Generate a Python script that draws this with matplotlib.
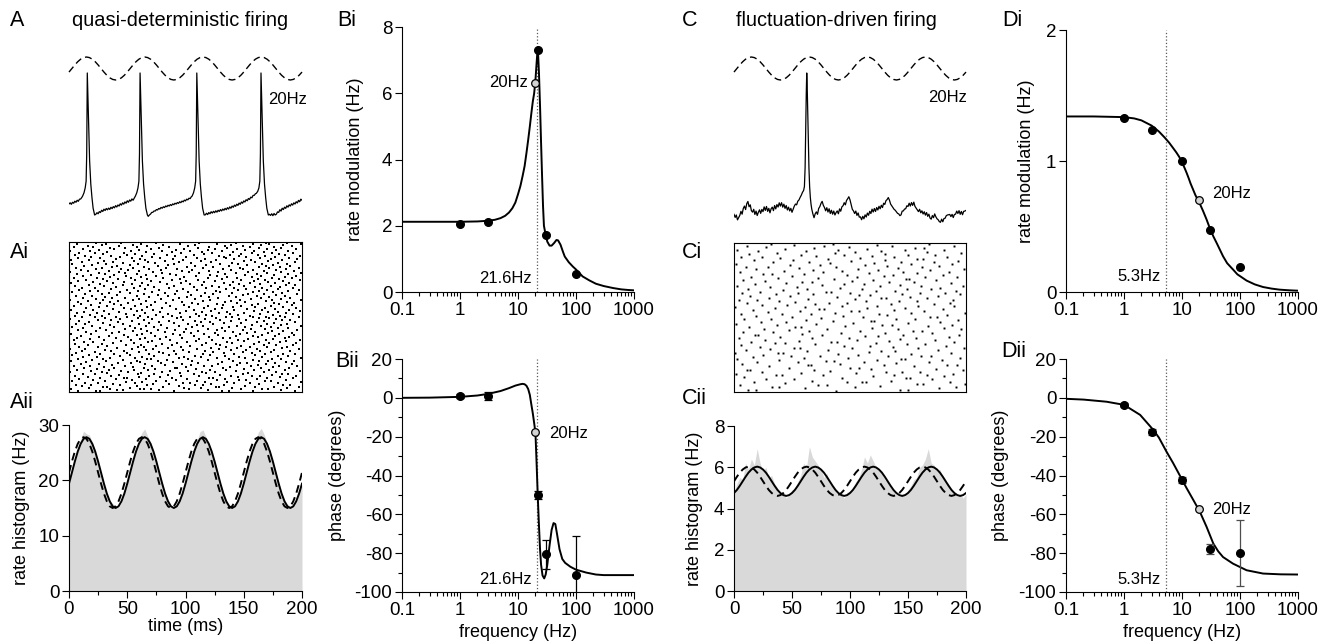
import numpy as np
import matplotlib
matplotlib.use("Agg")
import matplotlib.pyplot as plt
from matplotlib.ticker import LogLocator, NullFormatter, MultipleLocator

plt.rcParams['font.family'] = ['Liberation Sans', 'DejaVu Sans']
plt.rcParams['font.size'] = 13
plt.rcParams['axes.linewidth'] = 0.8
plt.rcParams['axes.unicode_minus'] = False

# ======================= DATA =======================
freq_ticks = [0.1, 1, 10, 100, 1000]
freq_ticklabels = ['0.1', '1', '10', '100', '1000']

# ---- membrane potential traces (time ms, mV) ----
a_trace = [
    (0, -66.8), (1, -66.0), (2, -67.1), (3, -65.6), (4, -66.3), (5, -64.8), (6, -65.6), (7, -64.1), (8, -64.9),
    (9, -63.3), (10, -63.2), (11, -62.0),
    (11.7, -61), (12.9, -58.5), (13.9, -55), (14.7, -50), (15.2, -30), (15.7, 30), (16.3, 10), (16.9, -12),
    (17.7, -35), (18.7, -52), (19.7, -62), (20.7, -70), (22.0, -75),
    (23, -74.5), (24, -73.3), (25, -74.1), (26, -72.5), (27, -73.2), (28, -71.5), (29, -72.4), (30, -70.7),
    (31, -71.7), (32, -70.2), (33, -71.2), (34, -69.9), (35, -70.9), (36, -69.3), (37, -70.3), (38, -68.8),
    (39, -69.7), (40, -68.1), (41, -69.1), (42, -67.6), (43, -68.4), (44, -66.7), (45, -67.7), (46, -66.0),
    (47, -67.0), (48, -65.3), (49, -66.3), (50, -64.5), (51, -65.6), (52, -63.9), (53, -64.8), (54, -63.1),
    (55, -64.1), (56, -62.5),
    (57, -61), (58.2, -58.5), (59.2, -55), (60.0, -50), (60.5, -30), (61.0, 30), (61.6, 10), (62.2, -12),
    (63.0, -35), (64.0, -52), (65.0, -62), (66.0, -70), (67.3, -75),
    (68, -76), (69, -75.0), (70, -74.3), (71, -73.1), (72, -73.0), (73, -72.0), (74, -72.1), (75, -71.0),
    (76, -71.3), (77, -70.2), (78, -70.6), (79, -69.4), (80, -70.0), (81, -68.9), (82, -69.5), (83, -68.3),
    (84, -68.9), (85, -67.8), (86, -68.4), (87, -67.3), (88, -68.0), (89, -66.8), (90, -67.4), (91, -66.3),
    (92, -66.9), (93, -65.8), (94, -66.4), (95, -65.2), (96, -65.9), (97, -64.7), (98, -65.3), (99, -64.0),
    (100, -64.6), (101, -63.3), (102, -63.8), (103, -62.6), (104, -62.9), (105, -61.5),
    (105.7, -61), (106.9, -58.5), (107.9, -55), (108.7, -50), (109.2, -30), (109.7, 30), (110.3, 10),
    (110.9, -12), (111.7, -35), (112.7, -52), (113.7, -62), (114.7, -70), (116.0, -75),
    (117, -74.9), (118, -73.7), (119, -74.7), (120, -73.2), (121, -74.1), (122, -72.6), (123, -73.6),
    (124, -72.3), (125, -73.3), (126, -71.9), (127, -72.9), (128, -71.5), (129, -72.4), (130, -71.0),
    (131, -72.0), (132, -70.6), (133, -71.5), (134, -70.1), (135, -71.1), (136, -69.6), (137, -70.6),
    (138, -69.0), (139, -70.0), (140, -68.4), (141, -69.3), (142, -67.7), (143, -68.6), (144, -67.0),
    (145, -67.9), (146, -66.2), (147, -67.1), (148, -65.4), (149, -66.3), (150, -64.6), (151, -65.4),
    (152, -63.7), (153, -64.5), (154, -62.8), (155, -63.5), (156, -61.8), (157, -62.3), (158, -60.5),
    (159, -60.5), (160, -59.3),
    (160.8, -59), (162.0, -57.5), (163.0, -55), (163.8, -50), (164.3, -30), (164.8, 30), (165.4, 10),
    (166.0, -12), (166.8, -35), (167.8, -52), (168.8, -62), (169.8, -70), (171.1, -75),
    (172, -74.5), (173, -75.3), (174, -74.1), (175, -75.5), (176, -73.9), (177, -75.0), (178, -74.4),
    (179, -72.7), (180, -73.1), (181, -71.1), (182, -72.1), (183, -70.0), (184, -71.0), (185, -69.2),
    (186, -70.1), (187, -68.2), (188, -69.2), (189, -67.5), (190, -68.4), (191, -66.7), (192, -67.7),
    (193, -66.0), (194, -66.9), (195, -65.2), (196, -66.1), (197, -64.2), (198, -65.2), (199, -63.3),
    (200, -64.1)]

c_trace = [
    (0, -74.5), (1, -76.8), (2, -75.0), (3, -78.6), (4, -77.0), (5, -75.3), (6, -72.3), (7, -74.4), (8, -70.2),
    (9, -68.4), (10, -71.0), (11, -66.6), (12, -65.0), (13, -68.9), (14, -67.5), (15, -71.8), (16, -72.9),
    (17, -70.8), (18, -74.6), (19, -72.1), (20, -75.4), (21, -73.0), (22, -71.2), (23, -73.8), (24, -70.9),
    (25, -72.5), (26, -69.0), (27, -71.6), (28, -68.7), (29, -72.3), (30, -70.1), (31, -73.4), (32, -70.4),
    (33, -69.2), (34, -71.8), (35, -68.0), (36, -70.5), (37, -67.3), (38, -69.1), (39, -66.0), (40, -68.4),
    (41, -65.9), (42, -69.2), (43, -67.0), (44, -70.1), (45, -68.0), (46, -71.3), (47, -69.2), (48, -72.0),
    (49, -70.1), (50, -73.0), (51, -70.6), (52, -68.4), (53, -66.9), (54, -67.5), (55, -64.8), (56, -63.9),
    (57, -62.0), (58, -60.4), (59, -58.3), (60, -56.9), (60.7, -54), (61.3, -40), (61.8, -10), (62.3, 15),
    (62.7, 30), (63.1, 20), (63.6, 0), (64.1, -22), (64.6, -40), (65.2, -54), (65.8, -62), (66.4, -67),
    (67, -70.5), (68, -74.2), (69, -77.0), (70, -74.1), (71, -72.7), (72, -74.5), (73, -70.2), (74, -68.8),
    (75, -66.4), (76, -64.9), (77, -67.8), (78, -69.5), (79, -71.9), (80, -69.6), (81, -72.8), (82, -70.4),
    (83, -73.9), (84, -71.5), (85, -74.4), (86, -72.1), (87, -75.0), (88, -73.2), (89, -72.0), (90, -74.1),
    (91, -70.5), (92, -72.2), (93, -69.0), (94, -68.2), (95, -65.9), (96, -67.5), (97, -64.3), (98, -63.0),
    (99, -61.5), (100, -63.8), (101, -67.4), (102, -70.8), (103, -72.0), (104, -73.9), (105, -72.1),
    (106, -75.3), (107, -73.5), (108, -76.6), (109, -76.4), (110, -78.5), (111, -76.0), (112, -77.8),
    (113, -74.9), (114, -76.5), (115, -73.6), (116, -75.2), (117, -72.3), (118, -73.9), (119, -70.7),
    (120, -72.8), (121, -70.2), (122, -72.4), (123, -69.5), (124, -71.3), (125, -68.6), (126, -70.4),
    (127, -67.8), (128, -69.5), (129, -66.3), (130, -67.2), (131, -64.4), (132, -63.6), (133, -62.1),
    (134, -64.0), (135, -66.9), (136, -68.2), (137, -69.6), (138, -70.8), (139, -71.5), (140, -72.6),
    (141, -73.8), (142, -74.2), (143, -75.5), (144, -74.9), (145, -72.1), (146, -72.0), (147, -70.6),
    (148, -70.4), (149, -68.2), (150, -68.7), (151, -66.3), (152, -68.4), (153, -65.8), (154, -67.9),
    (155, -65.5), (156, -68.6), (157, -69.9), (158, -71.1), (159, -72.5), (160, -70.8), (161, -73.4),
    (162, -71.9), (163, -74.3), (164, -72.6), (165, -75.1), (166, -73.2), (167, -76.0), (168, -74.4),
    (169, -77.3), (170, -78.1), (171, -75.4), (172, -77.0), (173, -74.2), (174, -76.3), (175, -77.8),
    (176, -78.5), (177, -79.9), (178, -80.4), (179, -78.1), (180, -80.0), (181, -77.6), (182, -77.4),
    (183, -75.5), (184, -75.0), (185, -74.8), (186, -74.6), (187, -76.2), (188, -74.5), (189, -76.9),
    (190, -74.6), (191, -74.4), (192, -72.1), (193, -73.9), (194, -71.8), (195, -74.5), (196, -72.4),
    (197, -74.8), (198, -72.3), (199, -72.1), (200, -71.6)]

# one period (2.5 ms steps, 50 ms) of the normalised 20 Hz input
stim_period = [-0.31, 0, 0.31, 0.59, 0.81, 0.95, 1, 0.95, 0.81, 0.59,
               0.31, 0, -0.31, -0.59, -0.81, -0.95, -1, -0.95, -0.81, -0.59]

# ---- rasters: spike times (ms) per trial ----
ai_spikes = [
    [8, 23, 27, 90, 131, 137, 158, 194], [41, 46, 77, 119, 182], [2, 35, 61, 64, 70, 103, 148, 166, 171],
    [17, 52, 99, 113, 140, 187], [29, 33, 81, 126, 129, 160, 176, 197], [11, 58, 94, 151],
    [6, 19, 44, 67, 108, 115, 133, 184, 190], [38, 72, 86, 122, 163], [14, 25, 57, 98, 104, 142, 155, 179],
    [49, 63, 117, 136, 199], [3, 31, 75, 83, 110, 168, 173], [21, 54, 92, 127, 146, 152, 186],
    [9, 40, 66, 101, 134, 161], [27, 47, 50, 88, 120, 124, 170, 192], [16, 60, 78, 145, 181],
    [5, 36, 69, 96, 112, 139, 157, 164, 195], [43, 85, 130, 174], [12, 22, 59, 73, 107, 149, 183, 188],
    [33, 62, 95, 118, 154], [1, 28, 51, 80, 114, 125, 167, 178], [19, 45, 87, 102, 143, 198],
    [7, 34, 56, 68, 121, 135, 159, 172, 185], [24, 74, 109, 150], [13, 39, 64, 91, 93, 132, 165, 189],
    [30, 55, 100, 138, 175], [4, 18, 48, 71, 116, 123, 156, 180, 196], [37, 82, 105, 144, 162],
    [10, 26, 65, 97, 128, 169, 191], [42, 53, 79, 111, 147, 153, 177], [15, 61, 89, 131, 186],
    [2, 32, 58, 76, 106, 141, 163, 171, 193], [20, 46, 84, 119, 158], [8, 29, 67, 70, 102, 137, 174, 182],
    [35, 57, 94, 127, 151, 199], [12, 24, 63, 99, 113, 146, 166], [44, 73, 108, 134, 179, 188],
    [3, 17, 52, 86, 121, 160], [27, 39, 69, 92, 115, 142, 168, 184, 194], [6, 50, 81, 133, 157],
    [22, 60, 77, 103, 124, 149, 173], [11, 36, 47, 90, 117, 164, 190], [31, 66, 98, 139, 152, 176],
    [1, 14, 54, 72, 110, 129, 161, 197], [41, 85, 122, 144, 183], [9, 25, 59, 64, 96, 135, 155, 170, 187],
    [33, 75, 104, 148], [16, 49, 62, 88, 114, 130, 167, 178, 192], [5, 28, 80, 126, 159],
    [38, 56, 93, 118, 140, 172, 195], [13, 21, 68, 101, 136, 163, 181], [45, 71, 109, 150, 186],
    [4, 30, 53, 87, 123, 145, 169, 198], [18, 61, 78, 112, 154, 175], [7, 40, 65, 97, 132, 138, 185],
    [26, 51, 83, 120, 162, 189], [10, 34, 74, 107, 143, 158, 177], [47, 58, 95, 128, 166, 193],
    [2, 19, 63, 89, 116, 147, 180], [37, 70, 105, 125, 153, 171, 191], [15, 43, 82, 99, 141, 160],
    [23, 55, 67, 111, 134, 174, 184], [8, 32, 76, 91, 127, 149, 196], [48, 62, 100, 119, 156, 168],
    [12, 27, 57, 84, 131, 179, 188], [3, 39, 73, 106, 137, 151, 173], [20, 52, 66, 94, 115, 144, 165, 199],
    [35, 79, 110, 157, 182], [6, 14, 46, 60, 102, 124, 170, 187], [29, 69, 90, 133, 148, 176],
    [17, 42, 77, 113, 121, 161, 194], [9, 54, 86, 108, 139, 167], [25, 36, 64, 98, 130, 152, 183, 190],
    [1, 44, 71, 117, 146, 178], [31, 59, 93, 126, 163, 172], [11, 22, 50, 81, 104, 140, 158, 185],
    [40, 68, 96, 135, 169, 197], [5, 28, 61, 88, 112, 123, 155, 181], [18, 56, 75, 118, 145, 175],
    [34, 49, 85, 109, 138, 164, 192], [7, 24, 65, 95, 129, 150, 186], [13, 43, 78, 114, 136, 171, 179],
    [30, 58, 100, 122, 159, 198], [2, 21, 63, 72, 107, 142, 166, 189], [38, 53, 92, 125, 153, 177],
    [15, 47, 80, 116, 131, 168, 195], [26, 67, 103, 141, 160, 184], [4, 33, 57, 87, 119, 148, 173],
    [19, 45, 70, 99, 132, 157, 191], [10, 39, 62, 111, 127, 162, 180], [27, 51, 83, 106, 144, 176, 193],
    [8, 35, 74, 97, 134, 151, 187], [16, 42, 66, 115, 139, 169], [1, 29, 55, 89, 121, 147, 174, 199],
    [23, 60, 79, 108, 156, 182], [12, 37, 48, 94, 128, 165, 190], [31, 69, 101, 120, 143, 172],
    [6, 20, 58, 85, 113, 137, 161, 185], [41, 76, 105, 149, 178], [14, 28, 64, 91, 124, 154, 167, 196],
    [34, 52, 82, 117, 140, 183], [3, 44, 71, 102, 130, 158, 175], [18, 25, 59, 93, 126, 163, 188],
    [9, 50, 77, 110, 145, 170, 197], [36, 65, 98, 135, 152, 179], [11, 22, 56, 86, 118, 142, 166, 192],
    [40, 73, 107, 129, 160, 181], [5, 30, 61, 90, 123, 150, 173], [17, 46, 68, 114, 138, 186, 194],
    [27, 54, 84, 104, 146, 164], [2, 38, 63, 96, 133, 155, 177, 189], [21, 47, 78, 116, 141, 171],
    [8, 33, 70, 100, 125, 159, 184], [15, 57, 88, 111, 148, 168, 198], [29, 42, 67, 95, 131, 162, 180],
    [4, 24, 53, 81, 119, 144, 174, 191], [35, 62, 99, 136, 157, 185], [12, 49, 75, 109, 127, 165, 195],
    [19, 39, 66, 92, 121, 151, 176], [7, 31, 58, 87, 134, 161, 188], [26, 48, 80, 112, 143, 170, 199],
    [1, 43, 72, 103, 128, 154, 182], [16, 34, 60, 97, 120, 167, 193], [10, 51, 79, 106, 139, 158, 178],
    [23, 45, 69, 93, 132, 149, 186], [6, 28, 55, 83, 115, 147, 172, 197], [37, 64, 101, 124, 163, 181],
    [13, 41, 76, 108, 137, 169, 190], [20, 52, 85, 118, 153, 175], [3, 32, 59, 90, 130, 145, 166, 187],
    [25, 46, 74, 105, 140, 179], [11, 38, 68, 94, 122, 160, 194], [30, 56, 82, 113, 150, 171],
    [2, 17, 65, 98, 126, 156, 183], [40, 61, 89, 117, 142, 173, 196], [8, 27, 54, 78, 110, 135, 164, 189],
    [19, 44, 71, 100, 133, 152, 177], [14, 36, 63, 91, 129, 146, 168, 198], [5, 50, 84, 107, 138, 162, 185],
    [29, 57, 73, 116, 148, 180], [9, 22, 47, 96, 123, 157, 174, 192], [33, 66, 88, 114, 141, 167],
    [1, 18, 53, 80, 104, 131, 159, 188], [26, 60, 92, 119, 151, 178], [12, 39, 70, 99, 125, 144, 170, 195],
    [35, 48, 77, 111, 136, 163, 182], [4, 21, 58, 86, 120, 155, 176], [16, 43, 67, 102, 134, 149, 191],
    [28, 55, 81, 108, 139, 165, 184], [7, 32, 62, 95, 127, 158, 172, 199], [23, 45, 75, 112, 143, 169, 187]]

ci_spikes = [
    [88], [12, 19, 143, 150], [], [61, 177], [33, 39, 104, 191], [126], [5, 72, 80], [158, 163, 199], [44],
    [17, 97, 110, 114, 186], [67, 135], [], [28, 52, 171], [93, 148, 152], [9], [120, 181],
    [36, 41, 77, 138, 166], [2, 189], [58, 105], [24, 131, 145, 160], [83], [11, 14, 69, 197], [118, 174],
    [47, 100, 108], [], [30, 155], [64, 66, 129, 184, 192], [7, 91], [140], [20, 55, 112, 168], [79, 86],
    [39, 123, 179], [3, 144, 147], [60, 98, 195], [16], [49, 74, 133, 161, 170], [25, 107], [90, 153],
    [1, 38, 42, 187], [116], [63, 127, 139], [10, 81, 176], [31], [52, 57, 102, 159, 198], [22, 137],
    [95, 117, 183], [6], [70, 149, 165], [35, 44, 122], [], [15, 84, 89, 190], [56, 134], [27, 106, 173],
    [143], [4, 67, 99, 157], [40, 185], [113, 124], [18, 21, 76, 146, 194], [59], [92, 130, 171], [8, 34],
    [65, 109, 154, 162], [47], [26, 80, 141, 196], [119, 181], [13, 53, 58], [96, 167], [37, 128, 136, 188],
    [2, 71], [103, 150], [23, 45, 178], [85, 118, 121], [62, 193], [9, 32, 140, 156], [75],
    [50, 111, 169, 175], [19, 94], [132, 184], [6, 41, 66, 125], [87, 153, 199], [29], [57, 101, 108, 164],
    [16, 138], [73, 78, 180], [35, 115, 147], [1, 61], [93, 123, 159, 190], [24, 46], [70, 135, 172],
    [11, 82, 97, 186], [53], [39, 114, 142, 158], [4, 20, 189], [64, 104], [30, 127, 131, 166], [89, 152],
    [14, 48, 176], [108, 117], [36, 68, 145, 195], [7, 100], [55, 160, 182], [22, 79, 84], [122, 139, 191],
    [42], [12, 63, 110, 149, 170], [91, 178], [31, 54], [3, 126, 161, 197], [76, 143], [18, 95, 112],
    [45, 187], [59, 67, 134, 155], [27, 102], [8, 120, 174], [86, 148, 151], [38, 72], [15, 106, 165, 192],
    [50, 129], [97, 137, 180], [25, 33, 60], [116, 158], [5, 77, 146, 185], [43, 93], [68, 124, 169],
    [19, 107, 198], [56, 141], [10, 29, 88, 162], [132, 177], [48, 74, 113], [2, 153, 188], [83, 121],
    [34, 65, 144, 172], [101, 193], [17, 51, 130], [81, 158, 163], [40, 109], [6, 24, 138, 184], [71, 119],
    [58, 95, 150, 173], [13, 130], [37, 87, 196], [104, 166], [21, 62, 127], [3, 90, 147, 181], [44, 115],
    [69, 156, 164], [28, 99], [11, 78, 136, 190], [52, 123], [32, 85, 168]]

# ---- rate histograms (2.5 ms bins) and sinusoidal fits (one 50 ms period) ----
aii_hist = [19.0, 21.9, 23.8, 25.6, 27.4, 28.9, 28.4, 28.2, 26.9, 25.5, 23.1, 21.3, 19.2, 17.4, 16.3, 15.8, 15.4, 15.1, 16.0, 18.0,
            20.1, 22.0, 23.9, 25.7, 27.3, 28.6, 29.3, 28.0, 27.0, 25.3, 23.6, 21.2, 19.5, 17.8, 16.5, 15.5, 15.2, 15.6, 16.4, 17.9,
            19.8, 21.7, 24.1, 25.9, 27.2, 28.8, 29.1, 27.9, 26.8, 25.0, 23.5, 21.6, 19.3, 17.8, 16.4, 15.6, 15.2, 15.4, 16.3, 17.7,
            19.9, 21.8, 23.7, 25.5, 27.1, 28.7, 29.4, 28.3, 26.9, 25.4, 23.2, 21.5, 19.6, 17.7, 16.4, 15.7, 15.3, 15.5, 16.4, 17.8,
            19.3]
aii_fit_period = [19.4, 21.4, 23.4, 25.2, 26.6, 27.5, 27.8, 27.5, 26.6, 25.2, 23.4, 21.4, 19.4, 17.6, 16.2, 15.3, 15.0, 15.3, 16.2, 17.6]
aii_input_period = [21.4, 23.4, 25.2, 26.6, 27.5, 27.8, 27.5, 26.6, 25.2, 23.4, 21.4, 19.4, 17.6, 16.2, 15.3, 15.0, 15.3, 16.2, 17.6, 19.4]

cii_hist = [4.8, 5.2, 5.5, 5.4, 6.2, 5.9, 6.4, 6.1, 6.9, 6.2, 5.8, 6.0, 5.5, 5.6, 5.2, 5.0, 4.7, 4.8, 4.5, 4.7,
            4.9, 5.0, 5.3, 5.6, 6.2, 6.0, 7.0, 6.5, 6.3, 6.1, 5.9, 5.5, 5.7, 5.2, 5.1, 4.9, 4.6, 4.7, 4.5, 4.8,
            4.8, 5.0, 5.3, 5.5, 5.9, 6.5, 6.2, 6.6, 6.3, 6.0, 5.9, 5.7, 5.4, 5.3, 5.0, 4.9, 4.7, 4.6, 4.7, 4.6,
            4.9, 5.1, 5.4, 5.5, 6.0, 6.1, 6.4, 6.9, 6.2, 6.1, 5.8, 5.9, 5.5, 5.3, 5.2, 4.9, 4.7, 4.6, 4.7, 4.5,
            4.7]
cii_fit_period = [4.75, 4.90, 5.10, 5.32, 5.54, 5.74, 5.89, 5.99, 6.03, 5.99, 5.89, 5.74, 5.54, 5.32, 5.10, 4.90, 4.75, 4.65, 4.61, 4.65]
cii_input_period = [5.32, 5.54, 5.74, 5.89, 5.99, 6.03, 5.99, 5.89, 5.74, 5.54, 5.32, 5.10, 4.90, 4.75, 4.65, 4.61, 4.65, 4.75, 4.90, 5.10]

# ---- B: quasi-deterministic transfer function ----
b_amp_fit_f = [0.1, 0.3, 1, 2, 3, 4, 5, 6, 7, 8, 9, 10, 11, 12, 13, 14, 15, 16, 17, 18, 19, 20, 21, 21.6, 22.2, 23, 24, 25,
               26, 27, 28, 30, 32, 35, 38, 42, 46, 49, 54, 60, 64, 75, 88, 100, 130, 170, 220, 300, 435, 600, 800, 1000]
b_amp_fit_v = [2.12, 2.12, 2.12, 2.13, 2.15, 2.18, 2.23, 2.30, 2.40, 2.53, 2.70, 2.95, 3.20, 3.50, 3.80, 4.20, 4.60, 5.00,
               5.40, 5.75, 6.00, 6.40, 6.95, 7.25, 7.20, 6.60, 5.60, 4.50, 3.50, 2.60, 2.00, 1.72, 1.52, 1.40, 1.40, 1.48,
               1.57, 1.56, 1.43, 1.20, 1.07, 0.90, 0.77, 0.68, 0.47, 0.35, 0.25, 0.18, 0.12, 0.08, 0.06, 0.05]
b_amp_pts_f = [1, 3, 22, 30, 100]
b_amp_pts_v = [2.05, 2.1, 7.3, 1.72, 0.55]
b_amp_20hz = [6.32]

b_ph_fit_f = [0.1, 0.3, 1, 2, 3, 5, 7, 9, 11, 12, 13, 14, 15, 16, 17, 18, 19, 20, 21, 22, 23, 24, 25, 26.5, 28.3, 30, 32,
              35, 38, 41, 44, 47, 52, 58, 65, 80, 100, 150, 220, 300, 1000]
b_ph_fit_v = [0, 0.1, 0.5, 1.2, 2.0, 3.5, 5.0, 6.3, 7.0, 7.2, 7.0, 6.2, 4.5, 1.5, -3.5, -8, -13, -18, -35, -52, -66, -78,
              -86, -91.5, -93, -91, -86, -76, -68, -64.5, -65, -70, -78, -83, -85, -87, -88.5, -90, -91, -91.3, -91.3]
b_ph_pts_f = [1, 3, 22, 30, 100]
b_ph_pts_v = [1, 1, -50, -80.5, -91.5]
b_ph_pts_err = [1, 2, 2, 7.5, 20.5]
b_ph_20hz = [-17.6]
b_cutoff = 21.6

# ---- D: fluctuation-driven transfer function ----
d_amp_fit_f = [0.1, 0.3, 1, 1.5, 2, 3, 4, 5, 6, 7, 8, 9, 10, 11, 12, 13, 14, 15.6, 17, 20, 23, 26.5, 30, 34.6, 40, 51,
               60, 76, 90, 130, 180, 250, 350, 480, 700, 1000]
d_amp_fit_v = [1.34, 1.34, 1.335, 1.325, 1.31, 1.27, 1.225, 1.18, 1.14, 1.10, 1.065, 1.03, 0.99, 0.95, 0.91, 0.87, 0.83,
               0.78, 0.74, 0.68, 0.62, 0.554, 0.49, 0.426, 0.37, 0.273, 0.22, 0.171, 0.135, 0.087, 0.058, 0.038, 0.026,
               0.018, 0.013, 0.01]
d_amp_pts_f = [1, 3, 10, 30, 100]
d_amp_pts_v = [1.33, 1.24, 1.0, 0.47, 0.19]
d_amp_20hz = [0.70]

d_ph_fit_f = [0.1, 0.2, 0.5, 1, 1.9, 3.2, 4, 5.4, 7, 9.1, 12, 15.6, 20.2, 26.5, 34.6, 42, 51, 75.8, 130, 250, 500, 1000]
d_ph_fit_v = [-0.5, -0.9, -2.0, -3.6, -8.8, -16.5, -20.5, -27.7, -33.5, -39.8, -46.5, -52.5, -58.5, -66.4, -75, -79, -82,
              -85.4, -88.8, -90.5, -90.9, -91]
d_ph_pts_f = [1, 3, 10, 30, 100]
d_ph_pts_v = [-3.8, -17.5, -42.5, -78, -80]
d_ph_pts_err = [1, 1.5, 1.5, 2.5, 17]
d_ph_20hz = [-57]
d_cutoff = 5.3

# ======================= FIGURE =======================
W, H = 1330, 642
fig = plt.figure(figsize=(W / 100, H / 100), dpi=100)

TICK_FS = 13.5
LAB_FS = 13
ANN_FS = 12
PANEL_FS = 15.5
TITLE_FS = 14.4


def px_axes(x0, y0, x1, y1):
    return fig.add_axes([x0 / W, 1 - y1 / H, (x1 - x0) / W, (y1 - y0) / H])


def ftext(x, y, s, fs):
    fig.text(x / W, 1 - y / H, s, ha='left', va='center', fontsize=fs)


def style(ax):
    for s in ('top', 'right'):
        ax.spines[s].set_visible(False)
    ax.tick_params(which='major', direction='out', length=5, width=0.8, pad=2, labelsize=TICK_FS)
    ax.tick_params(which='minor', direction='out', length=3, width=0.8)


def log_x(ax):
    ax.set_xscale('log')
    ax.set_xlim(0.1, 1000)
    ax.set_xticks(freq_ticks)
    ax.set_xticklabels(freq_ticklabels)
    ax.xaxis.set_minor_locator(LogLocator(base=10, subs=np.arange(2, 10), numticks=20))
    ax.xaxis.set_minor_formatter(NullFormatter())


def tiled(period):
    return np.concatenate([np.tile(period, 4), period[:1]])


hist_t = np.arange(0, 200.1, 2.5)
LW = 1.4


def trace_panel(x0, x1, trace):
    ax = px_axes(x0, 60, x1, 230)
    t, v = zip(*trace)
    ax.plot(t, v, color='black', lw=0.9)
    ax.set_xlim(0, 200)
    ax.set_ylim(-86.1, 39.6)
    ax.axis('off')
    axs = px_axes(x0, 57, x1, 80)
    axs.plot(hist_t, tiled(stim_period), color='black', lw=1.0, ls=(0, (5, 3)), clip_on=False)
    axs.set_xlim(0, 200)
    axs.set_ylim(-1, 1)
    axs.axis('off')


def raster_panel(x0, y0, x1, y1, spikes, ms):
    ax = px_axes(x0, y0, x1, y1)
    xs, ys = [], []
    for i, tr in enumerate(spikes):
        xs.extend(tr)
        ys.extend([i] * len(tr))
    ax.plot(xs, ys, 's', color='black', ms=ms, mew=0)
    ax.set_xlim(0, 200)
    ax.set_ylim(-1.5, len(spikes) + 0.5)
    ax.set_xticks([])
    ax.set_yticks([])
    for s in ax.spines.values():
        s.set_linewidth(0.8)


def hist_panel(x0, y0, x1, y1, hist, fitp, inp, ymax, ystep, ylabcoord):
    ax = px_axes(x0, y0, x1, y1)
    style(ax)
    ax.fill_between(hist_t, 0, hist, color='#d9d9d9', lw=0)
    ax.plot(hist_t, tiled(inp), color='black', lw=LW, ls=(0, (4, 2.5)))
    ax.plot(hist_t, tiled(fitp), color='black', lw=LW)
    ax.set_xlim(0, 200)
    ax.set_ylim(0, ymax)
    ax.set_xticks([0, 50, 100, 150, 200])
    ax.xaxis.set_minor_locator(MultipleLocator(25))
    ax.set_yticks(np.arange(0, ymax + 0.1, ystep))
    ax.set_ylabel('rate histogram (Hz)', fontsize=LAB_FS)
    ax.yaxis.set_label_coords(ylabcoord, 0.5)
    return ax


def tf_amp_panel(x0, y0, x1, y1, ff, fv, pf, pv, v20, cut, ymax, yticks, ylabcoord, lab20, labcut):
    ax = px_axes(x0, y0, x1, y1)
    style(ax)
    log_x(ax)
    ax.axvline(cut, color='0.35', ls=':', lw=0.9)
    ax.plot(ff, fv, color='black', lw=LW)
    ax.plot(pf, pv, 'o', color='black', ms=5.5, zorder=5)
    ax.plot([20], v20, 'o', mfc='#d4d4d4', mec='black', mew=0.9, ms=5.5, zorder=6)
    ax.set_ylim(0, ymax)
    ax.set_yticks(yticks)
    ax.set_ylabel('rate modulation (Hz)', fontsize=LAB_FS)
    ax.yaxis.set_label_coords(ylabcoord, 0.5)
    ax.text(*lab20[:3], ha=lab20[3], va='center', fontsize=ANN_FS)
    ax.text(*labcut[:3], ha=labcut[3], va='center', fontsize=ANN_FS)
    return ax


def tf_phase_panel(x0, y0, x1, y1, ff, fv, pf, pv, pe, v20, cut, ylabcoord, lab20, labcut, errcolor):
    ax = px_axes(x0, y0, x1, y1)
    style(ax)
    log_x(ax)
    ax.axvline(cut, color='0.35', ls=':', lw=0.9)
    ax.plot(ff, fv, color='black', lw=LW)
    ax.errorbar(pf, pv, yerr=pe, fmt='o', color='black', ecolor=errcolor, elinewidth=0.9,
                capsize=3, capthick=0.9, ms=5.5, zorder=5)
    ax.plot([20], v20, 'o', mfc='#d4d4d4', mec='black', mew=0.9, ms=5.5, zorder=6)
    ax.set_ylim(-100, 20)
    ax.set_yticks(np.arange(-100, 21, 20))
    ax.yaxis.set_minor_locator(MultipleLocator(10))
    ax.set_ylabel('phase (degrees)', fontsize=LAB_FS)
    ax.yaxis.set_label_coords(ylabcoord, 0.5)
    ax.set_xlabel('frequency (Hz)', fontsize=LAB_FS, va='top')
    ax.xaxis.set_label_coords(0.5, -0.138)
    ax.text(*lab20[:3], ha=lab20[3], va='center', fontsize=ANN_FS)
    ax.text(*labcut[:3], ha=labcut[3], va='center', fontsize=ANN_FS)
    return ax


# ---- column A ----
trace_panel(69, 302, a_trace)
raster_panel(69, 242, 302, 392, ai_spikes, 1.45)
axa = hist_panel(69, 425, 302, 591, aii_hist, aii_fit_period, aii_input_period, 30, 10, -0.167)
axa.set_xlabel('time (ms)', fontsize=LAB_FS, va='top')
axa.xaxis.set_label_coords(0.5, -0.16)

# ---- column C ----
trace_panel(734, 966, c_trace)
raster_panel(734, 243, 966, 392, ci_spikes, 1.4)
hist_panel(734, 426, 966, 591, cii_hist, cii_fit_period, cii_input_period, 8, 2, -0.134)

# ---- column B ----
tf_amp_panel(402, 27, 634, 292, b_amp_fit_f, b_amp_fit_v, b_amp_pts_f, b_amp_pts_v, b_amp_20hz, b_cutoff,
             8, [0, 2, 4, 6, 8], -0.164,
             (15, 6.32, '20Hz', 'right'), (17, 0.42, '21.6Hz', 'right'))
tf_phase_panel(402, 359, 634, 592, b_ph_fit_f, b_ph_fit_v, b_ph_pts_f, b_ph_pts_v, b_ph_pts_err, b_ph_20hz,
               b_cutoff, -0.241, (35, -18.5, '20Hz', 'left'), (17, -93.8, '21.6Hz', 'right'), 'black')

# ---- column D ----
tf_amp_panel(1066, 30, 1298, 292, d_amp_fit_f, d_amp_fit_v, d_amp_pts_f, d_amp_pts_v, d_amp_20hz, d_cutoff,
             2, [0, 1, 2], -0.134,
             (33, 0.75, '20Hz', 'left'), (4.2, 0.12, '5.3Hz', 'right'))
tf_phase_panel(1066, 359, 1298, 592, d_ph_fit_f, d_ph_fit_v, d_ph_pts_f, d_ph_pts_v, d_ph_pts_err, d_ph_20hz,
               d_cutoff, -0.246, (33, -57.5, '20Hz', 'left'), (4.2, -93.8, '5.3Hz', 'right'), '0.3')

# ---- panel labels ----
ftext(10, 20, 'A', PANEL_FS)
ftext(72, 20, 'quasi-deterministic firing', TITLE_FS)
ftext(10, 252, 'Ai', PANEL_FS)
ftext(10, 402, 'Aii', PANEL_FS)
ftext(337, 20, 'Bi', PANEL_FS)
ftext(335, 362, 'Bii', PANEL_FS)
ftext(682, 20, 'C', PANEL_FS)
ftext(736, 20, 'fluctuation-driven firing', TITLE_FS)
ftext(682, 252, 'Ci', PANEL_FS)
ftext(682, 398, 'Cii', PANEL_FS)
ftext(1002, 20, 'Di', PANEL_FS)
ftext(1001, 352, 'Dii', PANEL_FS)
ftext(268, 100, '20Hz', ANN_FS)
ftext(928, 98, '20Hz', ANN_FS)

fig.savefig('out.png', dpi=100)
